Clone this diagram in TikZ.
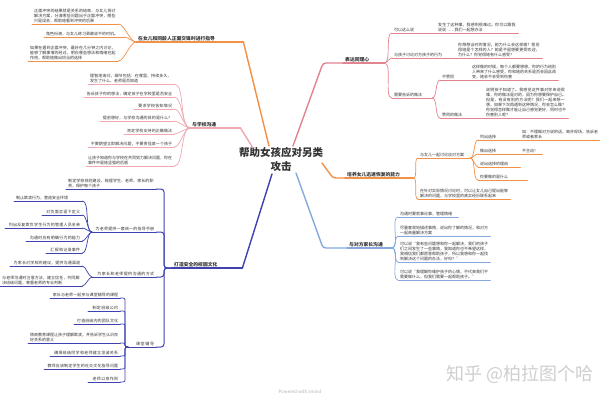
\documentclass[tikz,border=0pt]{standalone}
\usepackage{fontspec}
\setmainfont{Noto Sans CJK SC}
\XeTeXlinebreaklocale "zh"
\XeTeXlinebreakskip=0pt plus 1pt
\definecolor{orng}{HTML}{F39048}
\definecolor{pinkc}{HTML}{EFA7B0}
\definecolor{redp}{HTML}{E3838F}
\definecolor{navyc}{HTML}{3E42B0}
\definecolor{lblue}{HTML}{86A9DE}
\definecolor{txt}{HTML}{333333}
\definecolor{wmc}{HTML}{CFCFCF}
\newcommand\leaffont{\fontsize{4}{5}\selectfont}
\newcommand\brfont{\fontsize{4.8}{6}\selectfont\bfseries}
\newcommand\titlefont{\fontsize{10.5}{14}\selectfont\bfseries}
\tikzset{
  tp/.style={anchor=south west, inner xsep=2pt, inner ysep=1.2pt, text=txt, font=\leaffont, align=left},
  tpr/.style={tp, align=right},
  br/.style={tp, font=\brfont},
  sub/.style={line width=0.7pt, line cap=round},
  mid/.style={line width=1pt, line cap=round},
  mainln/.style={line width=1.4pt, line cap=round, line join=round},
  lc/.style={out=180, in=0, looseness=0.6},
  rc/.style={out=0, in=180, looseness=0.6},
}
\begin{document}
\begin{tikzpicture}[x=1pt,y=-1pt]
\useasboundingbox[fill=white] (0,0) rectangle (600,400);

% title
\node[font=\titlefont, align=center, inner sep=0pt, text=txt] (title) at (281,159) {帮助女孩应对另类\\攻击};

% ---------- A (orange, top left)
\node[br, text width=103] (A) at (136,42) {在女儿和同龄人正面交锋时进行指导};
\node[tp, text width=82] (A1) at (32,24) {正面冲突的结果就是关系的结束，与女儿探讨解决方案，分清哪些问题出于正面冲突，哪些只是误会，帮助她看到冲突的后果};
\node[tp, text width=76] (A2) at (44,37) {角色扮演，与女儿练习勇敢说不的时机。};
\node[tp, text width=86] (A3) at (28,61) {如果在遇到正面冲突，最好在几分钟之内讨论，能够了解事情的经过，明白哪些想法和情绪在起作用，帮助她做出恰当的选择};

% ---------- B (pink, left)
\node[br, text width=46] (B) at (190,128) {与学校沟通};
\node[tp, text width=82] (B1) at (88,84) {理智地询问，细节包括：在哪里、持续多久、发生了什么、老师是否知道};
\node[tpr, text width=86] (B2) at (84,97) {告诉孩子你的想法，确定孩子在学校里是否安全};
\node[tpr, text width=36] (B3) at (134,109) {要求学校告知情况};
\node[tpr, text width=70] (B4) at (100,121) {提前想好，与学校沟通的目的是什么？};
\node[tpr, text width=46] (B5) at (124,134) {肯定学校支持的正确做法};
\node[tpr, text width=82] (B6) at (88,147) {不要期望立即解决问题，不要责怪某一个孩子};
\node[tp, text width=84] (B7) at (86,166) {让孩子知道你与学校在共同努力解决问题，你在事件中是她坚强的后盾};

% ---------- C (red-pink, top right)
\node[br, text width=37] (C) at (343,63) {表达同理心};
\node[tp, text width=40] (C1) at (392,33) {可以这么说};
\node[tp, text width=78] (C1a) at (436,33) {发生了这种事，我感到很难过。你可以跟我说说……我们一起想办法};
\node[tp, text width=60] (C2) at (392,58) {与孩子讨论对方孩子的行为};
\node[tp, text width=82] (C2a) at (456,58) {你想想当时的情况，她为什么会这样做？我觉得她是个怎样的人？她是不是想要更受欢迎，为什么？你觉得她有什么感受？};
\node[tp, text width=36] (C3) at (392,98) {需要告诉的做法};
\node[tp, text width=26] (C3a) at (440,80) {不赞同};
\node[tp, text width=84] (C3at) at (470,80) {这样做的时候，每个人都要想想，你的行为给别人带来了什么感受，你和她的关系是否会因此改变，她会不会受到伤害};
\node[tp, text width=38] (C3b) at (440,118) {赞同的做法};
\node[tp, text width=80] (C3bt) at (484,118) {说明孩子知道了。我感觉这件事对你来说很难，你的做法是对的，因为你想要保护自己。但是，有没有别的方法呢？我们一起来想一想，如果下次再遇到这种情况，你会怎么做？你觉得怎样做才能让自己感觉更好，同时也不伤害别人呢？};

% ---------- D (orange, right)
\node[br, text width=64] (D) at (345,178) {培养女儿迅速恢复的能力};
\node[tp, text width=48] (D1) at (418,158) {与女儿一起讨论应对方案};
\node[tp, text width=88] (D2) at (418,199) {在针对实际情况讨论时，可以让女儿自己提出能够解决的问题，与学校里的真实经历联系起来};
\node[tp, text width=38] (D1a) at (478,140) {列出选择};
\node[tp, text width=76] (D1at) at (520,140) {如：不理睬对方说的话，离开现场，告诉老师或者家长};
\node[tp, text width=38] (D1b) at (478,154) {做出选择};
\node[tp, text width=18] (D1bt) at (520,154) {不主动！};
\node[tp, text width=38] (D1c) at (478,167) {说出选择的理由};
\node[tp, text width=45] (D1d) at (478,180) {你要做的是什么};

% ---------- F (light blue, right bottom)
\node[br, text width=41] (F) at (347,248) {与对方家长沟通};
\node[tp, text width=56] (F1) at (398,217) {沟通时要就事论事，管理情绪};
\node[tp, text width=88] (F2) at (398,236) {尽量客观地描述事情，说出你了解的情况，和对方一起商量解决方案};
\node[tp, text width=88] (F3) at (398,262) {可以说“我有些问题想和你一起解决，我们的孩子们之间发生了一些事情，我知道你也不希望这样，我相信我们都愿意帮助孩子，所以我想和你一起找到解决这个问题的办法，好吗？”};
\node[tp, text width=88] (F4) at (398,280) {可以说“我理解你维护孩子的心情，不代表我们不需要做什么，但我们需要一起帮助孩子。”};

% ---------- E (navy, left bottom)
\node[br, text width=66] (E) at (172,268) {打造安全的校园文化};
\node[tp, text width=86] (E1) at (66,189) {制定学校规则建设，梳理学生、老师、家长的职责，保护每个孩子};
\node[tpr, text width=60] (E2) at (92,232) {为老师提供一套统一的指导手册};
\node[tp, text width=64] (E2a) at (14,201) {制止欺凌行为，营造安全环境};
\node[tpr, text width=36] (E2b) at (42,215) {对负面言语下定义};
\node[tpr, text width=73] (E2c) at (5,228) {列出反复欺负学生行为的管理人员名单};
\node[tpr, text width=52] (E2d) at (26,241) {沟通时应有明确行为的能力};
\node[tpr, text width=32] (E2e) at (46,253) {汇报和记录事件};
\node[tpr, text width=60] (E3) at (92,277) {为家长和老师提供沟通的方式};
\node[tpr, text width=68] (E3a) at (10,266) {为家长对学校的建议，提供沟通渠道};
\node[tp, text width=78] (E3b) at (0,286) {与老师沟通时注意方法，建立信任，共同解决班级问题，尊重老师的专业判断};
\node[tpr, text width=24] (E4) at (128,347) {课堂辅导};
\node[tpr, text width=66] (E4a) at (50,298) {家长与老师一起参与课堂辅导的课程};
\node[tpr, text width=28] (E4b) at (88,311) {制定班级公约};
\node[tpr, text width=42] (E4c) at (74,324) {打造班级内的团队文化};
\node[tp, text width=88] (E4d) at (28,343) {情商教育课程让孩子理解欺凌，并告诉学生认识良好关系的意义};
\node[tpr, text width=66] (E4e) at (50,356) {确保班级同学和老师建立坦诚关系};
\node[tpr, text width=72] (E4f) at (44,369) {教师应该制定学生的社交文化指导问题};
\node[tpr, text width=28] (E4g) at (88,382) {老师以身作则};

% watermark and footer
\node[font=\fontsize{18}{18}\selectfont, text=wmc, inner sep=0pt] (wm) at (520,374) {知乎 @柏拉图个哈};
\node[font=\fontsize{4.5}{5}\selectfont, text=black!30, inner sep=0pt] (pw) at (300,392) {Powered with xmind};

% ---------- main connectors
\draw[orng, mainln] ([shift={(-12,-13)}]title.center) -- (A.south east);
\draw[pinkc, mainln] ([shift={(-28,-11)}]title.center) -- (B.south east);
\draw[redp, mainln, rounded corners=3pt] ([shift={(12,-13)}]title.center) -- (323,63) -- (C.south west);
\draw[orng, mainln, rounded corners=3pt] ([shift={(41,4)}]title.center) -- (333,178) -- (D.south west);
\draw[navyc, mainln] ([shift={(-9,15)}]title.center) -- (E.south east);
\draw[lblue, mainln, rounded corners=3pt] ([shift={(15,14)}]title.center) -- (323,248) -- (F.south west);

% branch underlines
\draw[orng, mainln] (A.south west) -- (A.south east);
\draw[pinkc, mainln] (B.south west) -- (B.south east);
\draw[redp, mainln] (C.south west) -- (C.south east);
\draw[orng, mainln] (D.south west) -- (D.south east);
\draw[navyc, mainln] (E.south west) -- (E.south east);
\draw[lblue, mainln] (F.south west) -- (F.south east);

% ---------- A children
\foreach \n in {A1,A2,A3} {
  \draw[orng, sub] (A.south west) to[lc] (\n.south east);
  \draw[orng, sub] (\n.south west) -- (\n.south east);
}
% ---------- B children
\foreach \n in {B1,B2,B3,B4,B5,B6,B7} {
  \draw[pinkc, sub] (B.south west) to[lc] (\n.south east);
  \draw[pinkc, sub] (\n.south west) -- (\n.south east);
}
% ---------- C children
\foreach \n in {C1,C2,C3} {
  \draw[redp, sub] (C.south east) to[rc] (\n.south west);
}
\foreach \n in {C3a,C3b} {
  \draw[redp, sub] (C3.south east) to[rc] (\n.south west);
}
\draw[redp, sub] (C1.south east) -- (C1a.south west);
\draw[redp, sub] (C2.south east) -- (C2a.south west);
\draw[redp, sub] (C3a.south east) -- (C3at.south west);
\draw[redp, sub] (C3b.south east) -- (C3bt.south west);
\foreach \n in {C1,C1a,C2,C2a,C3,C3a,C3at,C3b,C3bt} {
  \draw[redp, sub] (\n.south west) -- (\n.south east);
}
% ---------- D children
\foreach \n in {D1,D2} {
  \draw[orng, sub] (D.south east) to[rc] (\n.south west);
}
\foreach \n in {D1a,D1b,D1c,D1d} {
  \draw[orng, sub] (D1.south east) to[rc] (\n.south west);
}
\draw[orng, sub] (D1a.south east) -- (D1at.south west);
\draw[orng, sub] (D1b.south east) -- (D1bt.south west);
\foreach \n in {D1,D2,D1a,D1at,D1b,D1bt,D1c,D1d} {
  \draw[orng, sub] (\n.south west) -- (\n.south east);
}
% ---------- F children
\foreach \n in {F1,F2,F3,F4} {
  \draw[lblue, sub] (F.south east) to[rc] (\n.south west);
  \draw[lblue, sub] (\n.south west) -- (\n.south east);
}
% ---------- E children
\foreach \n in {E1,E2,E3,E4} {
  \draw[navyc, mid, rounded corners=3pt] (E.south west) -- ++(-8,0) |- (\n.south east);
  \draw[navyc, mid] (\n.south west) -- (\n.south east);
}
\foreach \n in {E2a,E2b,E2c,E2d,E2e} {
  \draw[navyc, sub] (E2.south west) to[lc] (\n.south east);
  \draw[navyc, sub] (\n.south west) -- (\n.south east);
}
\foreach \n in {E3a,E3b} {
  \draw[navyc, sub] (E3.south west) to[lc] (\n.south east);
  \draw[navyc, sub] (\n.south west) -- (\n.south east);
}
\foreach \n in {E4a,E4b,E4c,E4d,E4e,E4f,E4g} {
  \draw[navyc, sub, rounded corners=2pt] (E4.south west) -- ++(-3,0) |- (\n.south east);
  \draw[navyc, sub] (\n.south west) -- (\n.south east);
}
\end{tikzpicture}
\end{document}
